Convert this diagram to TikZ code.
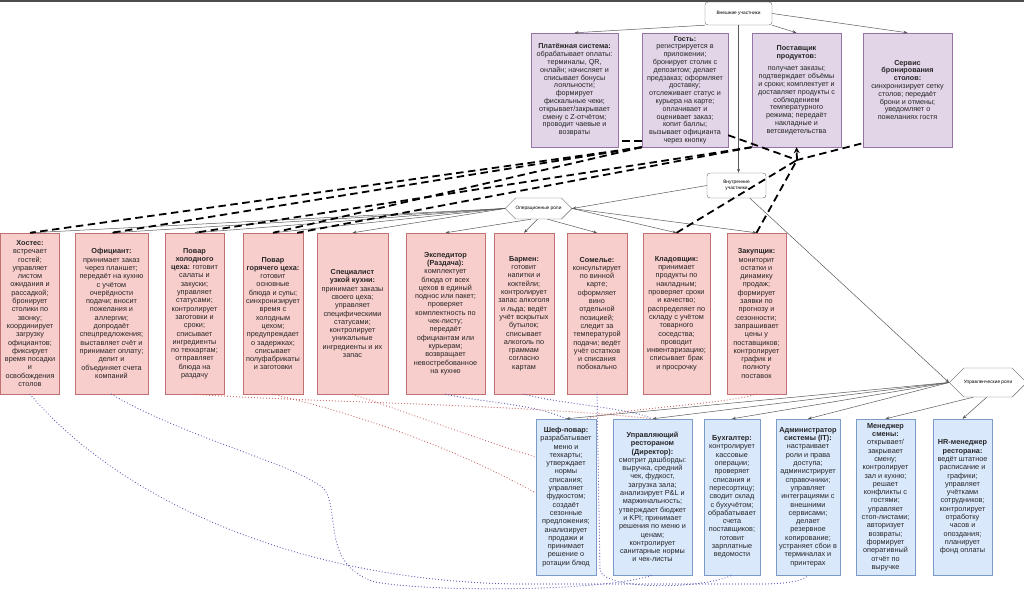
\documentclass[tikz,border=0pt]{standalone}
\usepackage{fontspec}
\setmainfont{Liberation Sans}
\usetikzlibrary{arrows.meta}
\usetikzlibrary{shapes.symbols}
\usetikzlibrary{calc}

\definecolor{extfill}{HTML}{E1D5E7}
\definecolor{extline}{HTML}{9673A6}
\definecolor{opfill}{HTML}{F8CECC}
\definecolor{opline}{HTML}{C07070}
\definecolor{mgfill}{HTML}{DAE8FC}
\definecolor{mgline}{HTML}{7C9CC8}
\definecolor{textgray}{HTML}{262626}
\definecolor{dotblue}{HTML}{5A5AB4}
\definecolor{dotred}{HTML}{C86464}

\begin{document}
\begin{tikzpicture}[x=1pt,y=-1pt,
  box/.style={draw, align=center, inner xsep=0.5pt, inner ysep=1pt, text=textgray, font=\fontsize{7.3}{8.3}\selectfont},
  extbox/.style={box, fill=extfill, draw=extline, minimum height=114pt, font=\fontsize{7.2}{7.8}\selectfont},
  opbox/.style={box, fill=opfill, draw=opline, minimum height=161pt},
  mgbox/.style={box, fill=mgfill, draw=mgline, minimum height=156pt},
  groupbox/.style={draw=black!60, fill=white, rounded corners=3pt, align=center, inner sep=1pt, font=\fontsize{4.8}{5.6}\selectfont},
  hexbox/.style={signal, signal to=east and west, draw=black!60, fill=white, inner sep=0pt, font=\fontsize{4.8}{5.6}\selectfont},
  rolearrow/.style={draw=black!65, line width=0.5pt, -{Stealth[length=4pt,width=3pt]}},
  extlink/.style={line width=1.8pt, dash pattern=on 7.5pt off 4.5pt},
  bluedots/.style={draw=dotblue, line width=1.2pt, line cap=round, dash pattern=on 0pt off 3pt},
  reddots/.style={draw=dotred, line width=1.2pt, line cap=round, dash pattern=on 0pt off 3pt}]

\useasboundingbox (0,0) rectangle (1024,592);
\fill[black!70] (0,0) rectangle (1024,2);

\node (ext) at (738.5,13.5) [groupbox, minimum width=67pt, minimum height=23pt] {Внешние участники};
\node (int) at (736.5,185.5) [groupbox, minimum width=59pt, minimum height=25pt] {Внутренние\\ участники};
\node (ops) at (538.5,208.5) [hexbox, minimum width=63pt, minimum height=21pt] {Операционные роли};
\node (mgmt) at (988,382.5) [hexbox, minimum width=70pt, minimum height=29pt] {Управленческие роли};

\node (pay) at (574.5,90) [extbox, minimum width=87pt]
{\textbf{Платёжная система:}\\ обрабатывает оплаты:\\ терминалы, QR,\\ онлайн; начисляет и\\ списывает бонусы\\ лояльности;\\ формирует\\ фискальные чеки;\\ открывает/закрывает\\ смену с Z-отчётом;\\ проводит чаевые и\\ возвраты};

\node (guest) at (685,90) [extbox, minimum width=86pt]
{\textbf{Гость:}\\ регистрируется в\\ приложении;\\ бронирует столик с\\ депозитом; делает\\ предзаказ; оформляет\\ доставку;\\ отслеживает статус и\\ курьера на карте;\\ оплачивает и\\ оценивает заказ;\\ копит баллы;\\ вызывает официанта\\ через кнопку};

\node (supplier) at (796.5,90) [extbox, minimum width=89pt]
{\textbf{Поставщик}\\ \textbf{продуктов:}\\[5pt] получает заказы;\\ подтверждает объёмы\\ и сроки; комплектует и\\ доставляет продукты с\\ соблюдением\\ температурного\\ режима; передаёт\\ накладные и\\ ветсвидетельства};

\node (booking) at (907.5,90) [extbox, minimum width=89pt]
{\textbf{Сервис}\\ \textbf{бронирования}\\ \textbf{столов:}\\ синхронизирует сетку\\ столов; передаёт\\ брони и отмены;\\ уведомляет о\\ пожеланиях гостя};

\node (hostess) at (30,313.5) [opbox, minimum width=59pt]
{\textbf{Хостес:}\\ встречает\\ гостей;\\ управляет\\ листом\\ ожидания и\\ рассадкой;\\ бронирует\\ столики по\\ звонку;\\ координирует\\ загрузку\\ официантов;\\ фиксирует\\ время посадки\\ и\\ освобождения\\ столов};

\node (waiter) at (111.5,313.5) [opbox, minimum width=73pt]
{\textbf{Официант:}\\ принимает заказ\\ через планшет;\\ передаёт на кухню\\ с учётом\\ очерёдности\\ подачи; вносит\\ пожелания и\\ аллергии;\\ допродаёт\\ спецпредложения;\\ выставляет счёт и\\ принимает оплату;\\ делит и\\ объединяет счета\\ компаний};

\node (coldcook) at (194.5,313.5) [opbox, minimum width=59pt]
{\textbf{Повар}\\ \textbf{холодного}\\ \textbf{цеха:} готовит\\ салаты и\\ закуски;\\ управляет\\ статусами;\\ контролирует\\ заготовки и\\ сроки;\\ списывает\\ ингредиенты\\ по техкартам;\\ отправляет\\ блюда на\\ раздачу};

\node (hotcook) at (273,313.5) [opbox, minimum width=60pt]
{\textbf{Повар}\\ \textbf{горячего цеха:}\\ готовит\\ основные\\ блюда и супы;\\ синхронизирует\\ время с\\ холодным\\ цехом;\\ предупреждает\\ о задержках;\\ списывает\\ полуфабрикаты\\ и заготовки};

\node (special) at (352.5,313.5) [opbox, minimum width=71pt]
{\textbf{Специалист}\\ \textbf{узкой кухни:}\\ принимает заказы\\ своего цеха;\\ управляет\\ специфическими\\ статусами;\\ контролирует\\ уникальные\\ ингредиенты и их\\ запас};

\node (expediter) at (445.5,313.5) [opbox, minimum width=79pt]
{\textbf{Экспедитор}\\ \textbf{(Раздача):}\\ комплектует\\ блюда от всех\\ цехов в единый\\ поднос или пакет;\\ проверяет\\ комплектность по\\ чек-листу;\\ передаёт\\ официантам или\\ курьерам;\\ возвращает\\ невостребованное\\ на кухню};

\node (barman) at (524,313.5) [opbox, minimum width=60pt]
{\textbf{Бармен:}\\ готовит\\ напитки и\\ коктейли;\\ контролирует\\ запас алкоголя\\ и льда; ведёт\\ учёт вскрытых\\ бутылок;\\ списывает\\ алкоголь по\\ граммам\\ согласно\\ картам};

\node (sommelier) at (597,313.5) [opbox, minimum width=60pt]
{\textbf{Сомелье:}\\ консультирует\\ по винной\\ карте;\\ оформляет\\ вино\\ отдельной\\ позицией;\\ следит за\\ температурой\\ подачи; ведёт\\ учёт остатков\\ и списания\\ побокально};

\node (storekeeper) at (676.5,313.5) [opbox, minimum width=67pt]
{\textbf{Кладовщик:}\\ принимает\\ продукты по\\ накладным;\\ проверяет сроки\\ и качество;\\ распределяет по\\ складу с учётом\\ товарного\\ соседства;\\ проводит\\ инвентаризацию;\\ списывает брак\\ и просрочку};

\node (buyer) at (756.5,313.5) [opbox, minimum width=59pt]
{\textbf{Закупщик:}\\ мониторит\\ остатки и\\ динамику\\ продаж;\\ формирует\\ заявки по\\ прогнозу и\\ сезонности;\\ запрашивает\\ цены у\\ поставщиков;\\ контролирует\\ график и\\ полноту\\ поставок};

\node (chef) at (566,497) [mgbox, minimum width=60pt]
{\textbf{Шеф-повар:}\\ разрабатывает\\ меню и\\ техкарты;\\ утверждает\\ нормы\\ списания;\\ управляет\\ фудкостом;\\ создаёт\\ сезонные\\ предложения;\\ анализирует\\ продажи и\\ принимает\\ решение о\\ ротации блюд};

\node (director) at (652.5,497) [mgbox, minimum width=79pt]
{\textbf{Управляющий}\\ \textbf{рестораном}\\ \textbf{(Директор):}\\ смотрит дашборды:\\ выручка, средний\\ чек, фудкост,\\ загрузка зала;\\ анализирует P\&L и\\ маржинальность;\\ утверждает бюджет\\ и KPI; принимает\\ решения по меню и\\ ценам;\\ контролирует\\ санитарные нормы\\ и чек-листы};

\node (accountant) at (732,497) [mgbox, minimum width=56pt]
{\textbf{Бухгалтер:}\\ контролирует\\ кассовые\\ операции;\\ проверяет\\ списания и\\ пересортицу;\\ сводит склад\\ с бухучётом;\\ обрабатывает\\ счета\\ поставщиков;\\ готовит\\ зарплатные\\ ведомости};

\node (itadmin) at (808,497) [mgbox, minimum width=64pt]
{\textbf{Администратор}\\ \textbf{системы (IT):}\\ настраивает\\ роли и права\\ доступа;\\ администрирует\\ справочники;\\ управляет\\ интеграциями с\\ внешними\\ сервисами;\\ делает\\ резервное\\ копирование;\\ устраняет сбои в\\ терминалах и\\ принтерах};

\node (shiftmgr) at (885.5,497) [mgbox, minimum width=59pt]
{\textbf{Менеджер}\\ \textbf{смены:}\\ открывает/\\ закрывает\\ смену;\\ контролирует\\ зал и кухню;\\ решает\\ конфликты с\\ гостями;\\ управляет\\ стоп-листами;\\ авторизует\\ возвраты;\\ формирует\\ оперативный\\ отчёт по\\ выручке};

\node (hr) at (962.5,497) [mgbox, minimum width=59pt]
{\textbf{HR-менеджер}\\ \textbf{ресторана:}\\ ведёт штатное\\ расписание и\\ графики;\\ управляет\\ учётками\\ сотрудников;\\ контролирует\\ отработку\\ часов и\\ опоздания;\\ планирует\\ фонд оплаты};

\draw[rolearrow] (ext.south west) -- (pay.north);
\draw[rolearrow] (ext.south east) -- (supplier.north);
\draw[rolearrow] (ext.east) -- (booking.north);
\draw[rolearrow] (ext.south) -- (ext.south |- int.north);
\draw[rolearrow] (int.west) -- (ops.east);
\draw[rolearrow] ($(int.south)!0.45!(int.south east)$) -- (mgmt.west);

\draw[rolearrow] (ops.west) -- (hostess.north);
\draw[rolearrow] (ops.west) -- (waiter.north);
\draw[rolearrow] (ops.west) -- (coldcook.north);
\draw[rolearrow] (ops.west) -- (hotcook.north);
\draw[rolearrow] (ops.west) -- (special.north);
\draw[rolearrow] (ops.235) -- (expediter.north);
\draw[rolearrow] (ops.265) -- (barman.north);
\draw[rolearrow] (ops.310) -- (sommelier.north);
\draw[rolearrow] (ops.east) -- (storekeeper.north);
\draw[rolearrow] (ops.east) -- (buyer.north);

\draw[rolearrow] (mgmt.west) -- (chef.north);
\draw[rolearrow] (mgmt.west) -- (director.north);
\draw[rolearrow] (mgmt.west) -- (accountant.north);
\draw[rolearrow] (mgmt.west) -- (itadmin.north);
\draw[rolearrow] (mgmt.225) -- (shiftmgr.north);
\draw[rolearrow] (mgmt.265) -- (hr.north);

\coordinate (junction) at (797,160);

\draw[extlink] (guest.south west) -- (hostess.north);
\draw[extlink] (guest.south west) -- (waiter.north);
\draw[extlink] (guest.south west) -- (hotcook.north);
\draw[extlink] (supplier.south west) -- (coldcook.north);
\draw[extlink] (supplier.south west) -- ($(hotcook.north)!0.8!(hotcook.north east)$);
\draw[extlink] ($(guest.south west)+(0,-6)$) -- ($(pay.south east)+(0,-6)$);
\draw[extlink] ($(guest.south east)+(0,-12)$) -- (junction) -- ($(booking.south west)+(0,-4)$);
\draw[extlink] (storekeeper.north) -- (junction);
\draw[extlink] (buyer.north) -- (junction);
\draw[extlink, -{Stealth[length=6pt,width=6pt]}] (junction) -- (supplier.south);

\draw[bluedots] (hostess.south) .. controls (120,500) and (300,582) .. (520,584) -- (760,584) .. controls (790,584) and (805,580) .. (itadmin.south);
\draw[bluedots] (waiter.south) .. controls (190,440) and (300,465) .. (325,490) .. controls (340,515) and (322,565) .. (375,582) .. controls (430,592) and (600,592) .. (director.south);
\draw[bluedots] (sommelier.south) -- (600,570) .. controls (604,590) and (700,590) .. (accountant.south);
\draw[bluedots] (expediter.south) .. controls (480,402) and (535,404) .. (chef.north);
\draw[bluedots] (barman.south) .. controls (560,404) and (630,408) .. (director.north);

\draw[reddots] (coldcook.south) .. controls (300,402) and (520,404) .. (director.north);
\draw[reddots] (hotcook.south) .. controls (340,410) and (440,440) .. ($(chef.west)+(0,-4)$);
\draw[reddots] (special.south) .. controls (400,410) and (480,440) .. ($(chef.west)+(0,-40)$);
\draw[reddots] (buyer.south) .. controls (720,405) and (620,408) .. ($(chef.north)!0.7!(chef.north east)$);

\end{tikzpicture}
\end{document}
